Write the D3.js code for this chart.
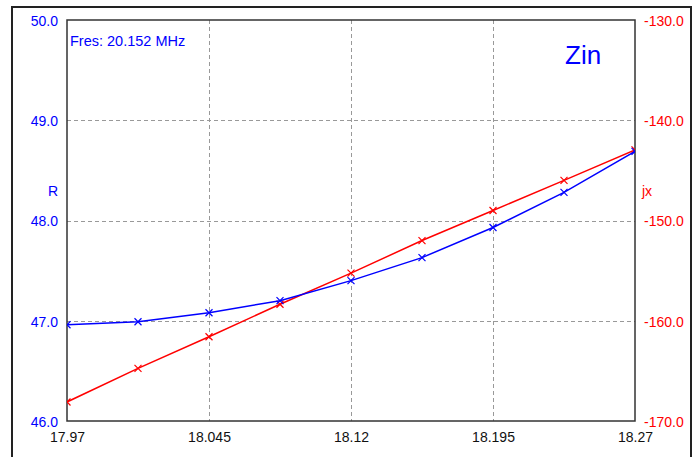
<!DOCTYPE html>
<html><head><meta charset="utf-8">
<script src="https://cdn.jsdelivr.net/npm/d3@7"></script>
<style>
html,body{margin:0;padding:0;background:#fff;}
svg{display:block;font-family:"Liberation Sans",Arial,sans-serif;}
</style></head>
<body>
<script>
const freq = [17.97, 18.0075, 18.045, 18.0825, 18.12, 18.1575, 18.195, 18.2325, 18.27];
const rValues = [46.96, 46.99, 47.08, 47.20, 47.40, 47.63, 47.93, 48.28, 48.69];
const jxValues = [-168.1, -164.75, -161.6, -158.35, -155.25, -152.0, -149.0, -146.0, -142.95];
const xTicks = [17.97, 18.045, 18.12, 18.195, 18.27];
const xTickLabels = ["17.97", "18.045", "18.12", "18.195", "18.27"];
const rTicks = [46, 47, 48, 49, 50];
const jxTicks = [-170, -160, -150, -140, -130];
const title = "Zin";
const note = "Fres: 20.152 MHz";

const W = 698, H = 457;
const plot = {l: 67, t: 20, r: 635, b: 421};
const blue = "#0000ff", red = "#ff0000";

const svg = d3.select("body").append("svg").attr("width", W).attr("height", H);

// outer frame
svg.append("rect").attr("x", 12).attr("y", 7).attr("width", 679).attr("height", 470)
  .attr("fill", "none").attr("stroke", "#222").attr("stroke-width", 2);

const x = d3.scaleLinear().domain([17.97, 18.27]).range([plot.l, plot.r]);
const yL = d3.scaleLinear().domain([46, 50]).range([plot.b, plot.t]);
const yR = d3.scaleLinear().domain([-170, -130]).range([plot.b, plot.t]);

// grid
const grid = svg.append("g").attr("stroke", "#999").attr("stroke-width", 1).attr("stroke-dasharray", "4,3");
xTicks.slice(1, -1).forEach(v => {
  grid.append("line").attr("x1", Math.round(x(v)) + 0.5).attr("x2", Math.round(x(v)) + 0.5)
    .attr("y1", plot.t).attr("y2", plot.b);
});
rTicks.slice(1, -1).forEach(v => {
  grid.append("line").attr("y1", Math.round(yL(v)) + 0.5).attr("y2", Math.round(yL(v)) + 0.5)
    .attr("x1", plot.l).attr("x2", plot.r);
});

const fmt = d => d.toFixed(1);

const axL = svg.append("g").attr("transform", `translate(${plot.l},0)`)
  .call(d3.axisLeft(yL).tickValues(rTicks).tickFormat(fmt).tickSize(0).tickPadding(9));
axL.select(".domain").remove();
axL.selectAll("text").attr("fill", blue).attr("font-size", 14).attr("dy", "0.38em")
  .attr("font-family", "Liberation Sans, Arial, sans-serif");

const axR = svg.append("g").attr("transform", `translate(${plot.r},0)`)
  .call(d3.axisRight(yR).tickValues(jxTicks).tickFormat(fmt).tickSize(0).tickPadding(9));
axR.select(".domain").remove();
axR.selectAll("text").attr("fill", red).attr("font-size", 14).attr("dy", "0.38em")
  .attr("font-family", "Liberation Sans, Arial, sans-serif");

const axB = svg.append("g").attr("transform", `translate(0,${plot.b})`)
  .call(d3.axisBottom(x).tickValues(xTicks).tickFormat((d, i) => xTickLabels[i]).tickSize(0).tickPadding(16));
axB.select(".domain").remove();
axB.selectAll("text").attr("fill", "#111").attr("font-size", 14).attr("dy", "0.38em")
  .attr("font-family", "Liberation Sans, Arial, sans-serif");

// plot frame
svg.append("rect").attr("x", plot.l).attr("y", plot.t).attr("width", plot.r - plot.l).attr("height", plot.b - plot.t)
  .attr("fill", "none").attr("stroke", "#333").attr("stroke-width", 1.5);

// clip
svg.append("clipPath").attr("id", "clip").append("rect")
  .attr("x", plot.l).attr("y", plot.t).attr("width", plot.r - plot.l).attr("height", plot.b - plot.t);
const g = svg.append("g").attr("clip-path", "url(#clip)");

function series(vals, yS, color) {
  const line = d3.line().x((d, i) => x(freq[i])).y(d => yS(d));
  g.append("path").datum(vals).attr("d", line).attr("fill", "none").attr("stroke", color).attr("stroke-width", 1.5);
  const s = 3.5;
  g.selectAll(null).data(vals).enter().append("path")
    .attr("d", (d, i) => {
      const cx = x(freq[i]), cy = yS(d);
      return `M${cx - s},${cy - s}L${cx + s},${cy + s}M${cx - s},${cy + s}L${cx + s},${cy - s}`;
    })
    .attr("stroke", color).attr("stroke-width", 1.2).attr("fill", "none");
}
series(jxValues, yR, red);
series(rValues, yL, blue);

// labels
svg.append("text").attr("x", 70).attr("y", 46).attr("fill", blue).attr("font-size", 14.5).text(note);
svg.append("text").attr("x", 565).attr("y", 64).attr("fill", blue).attr("font-size", 26).text(title);
svg.append("text").attr("x", 58).attr("y", 196).attr("text-anchor", "end").attr("fill", blue).attr("font-size", 14).text("R");
svg.append("text").attr("x", 642).attr("y", 196).attr("fill", red).attr("font-size", 14).text("jx");
</script>
</body></html>
